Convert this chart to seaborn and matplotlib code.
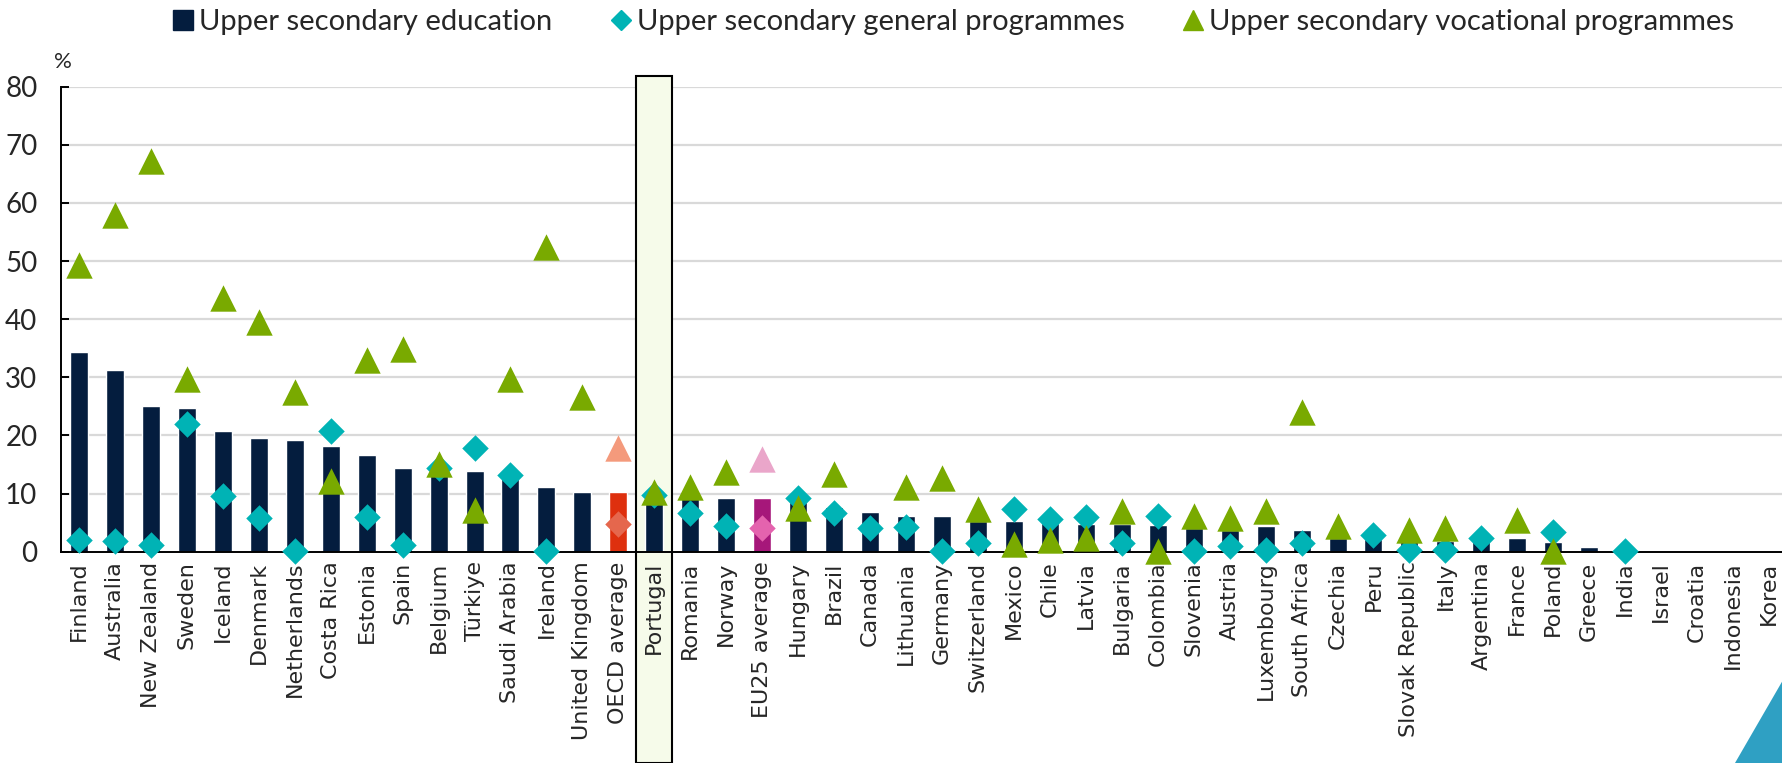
import matplotlib
matplotlib.use("Agg")
import matplotlib.pyplot as plt
import matplotlib.transforms as mtransforms
from matplotlib.patches import Rectangle, Polygon
from matplotlib.lines import Line2D
import numpy as np
import pandas as pd
import seaborn as sns

nan = np.nan

countries = ["Finland", "Australia", "New Zealand", "Sweden", "Iceland", "Denmark",
             "Netherlands", "Costa Rica", "Estonia", "Spain", "Belgium", "Türkiye",
             "Saudi Arabia", "Ireland", "United Kingdom", "OECD average", "Portugal",
             "Romania", "Norway", "EU25 average", "Hungary", "Brazil", "Canada",
             "Lithuania", "Germany", "Switzerland", "Mexico", "Chile", "Latvia",
             "Bulgaria", "Colombia", "Slovenia", "Austria", "Luxembourg", "South Africa",
             "Czechia", "Peru", "Slovak Republic", "Italy", "Argentina", "France",
             "Poland", "Greece", "India", "Israel", "Croatia", "Indonesia", "Korea"]

upper_secondary = [34.3, 31.3, 25.1, 24.8, 20.7, 19.5, 19.3, 18.2, 16.7, 14.4, 14.5, 13.8,
                   13.5, 11.2, 10.2, 10.2, 9.5, 9.4, 9.3, 9.2, 8.5, 7.7, 6.9,
                   6.2, 6.1, 5.3, 5.3, 5.0, 4.8, 4.7, 4.6, 4.0, 3.7, 4.5, 3.8,
                   2.4, 2.1, 1.8, 1.8, 1.8, 2.4, 1.7, 0.8, 0.0, 0.0, 0.0, 0.0, 0.0]

general = [2.0, 1.8, 1.2, 21.9, 9.5, 5.8, 0.2, 20.8, 5.9, 1.2, 14.4, 17.8,
           13.2, 0.2, nan, 4.8, 9.8, 6.7, 4.4, 4.0, 9.2, 6.7, 4.1,
           4.2, 0.2, 1.5, 7.3, 5.7, 6.0, 1.5, 6.1, 0.2, 1.0, 0.3, 1.5,
           nan, 2.9, 0.3, 0.3, 2.3, nan, 3.4, nan, 0.2, nan, nan, nan, nan]

vocational = [49.4, 57.9, 67.3, 29.7, 43.6, 39.5, 27.5, 12.2, 33.0, 34.9, 15.1, 7.1,
              29.7, 52.5, 26.7, 17.8, 10.2, 11.2, 13.7, 15.9, 7.5, 13.4, nan,
              11.1, 12.6, 7.3, 1.3, 2.0, 2.4, 7.0, 0.1, 6.1, 5.8, 7.0, 24.0,
              4.4, nan, 3.7, 4.0, nan, 5.5, 0.1, nan, nan, nan, nan, nan, nan]

legend_labels = ["Upper secondary education", "Upper secondary general programmes",
                 "Upper secondary vocational programmes"]

# colours
NAVY, TEAL, GREEN = "#041D3E", "#00B3B5", "#79AA00"
bar_pal = {c: NAVY for c in countries}
bar_pal.update({"OECD average": "#DE300E", "EU25 average": "#A6177A"})
gen_pal = {c: TEAL for c in countries}
gen_pal.update({"OECD average": "#E5674D", "EU25 average": "#E463AE"})
voc_pal = {c: GREEN for c in countries}
voc_pal.update({"OECD average": "#F49A7C", "EU25 average": "#EAA6CA"})

df = pd.DataFrame({"country": countries, "upper": upper_secondary,
                   "general": general, "vocational": vocational})

sns.set_theme(style="white")
plt.rcParams["font.family"] = ["Lato", "DejaVu Sans"]

W, H = 1783, 763
fig = plt.figure(figsize=(W / 100, H / 100), dpi=100)
ax = fig.add_axes([61 / W, 1 - 551.7 / H, 1726 / W, (551.7 - 86.7) / H])

sns.barplot(data=df, x="country", y="upper", hue="country", palette=bar_pal,
            order=countries, width=0.5, saturation=1, legend=False, dodge=False, ax=ax)
for bar in ax.patches:
    bar.set_zorder(2)
sns.stripplot(data=df, x="country", y="general", hue="country", palette=gen_pal,
              order=countries, jitter=False, marker="D", size=13.5, linewidth=0,
              legend=False, dodge=False, ax=ax, zorder=3, clip_on=False)
sns.stripplot(data=df, x="country", y="vocational", hue="country", palette=voc_pal,
              order=countries, jitter=False, marker="^", size=19, linewidth=0,
              legend=False, dodge=False, ax=ax, zorder=4, clip_on=False)

# highlight box for Portugal (behind bars, above gridlines)
p = countries.index("Portugal")
trans = mtransforms.blended_transform_factory(ax.transData, fig.transFigure)
ax.add_patch(Rectangle((p - 0.5, 0), 1, 1 - 76 / H, transform=trans, clip_on=False,
                       facecolor="#F6FBEA", edgecolor="black", lw=1.5, zorder=1))

ax.set_xlim(-0.5, len(countries) - 0.5)
ax.set_ylim(0, 80)
yticks = list(range(0, 81, 10))
ax.set_yticks(yticks)
ax.set_xlabel("")
ax.set_ylabel("")
ax.grid(False)
ax.set_axisbelow(False)
for yv in yticks[1:]:
    ax.axhline(yv, color="#D9D9D9", lw=1.6, zorder=0.5)
for s in ["top", "right"]:
    ax.spines[s].set_visible(False)
for s in ["left", "bottom"]:
    ax.spines[s].set_color("black")
    ax.spines[s].set_linewidth(1.4)
    ax.spines[s].set_zorder(2.5)

ax.set_xticks(range(len(countries)))
ax.set_xticklabels(countries, rotation=90, fontfamily="DejaVu Sans", fontsize=16)
ax.set_xticks(np.arange(len(countries) - 1) + 0.5, minor=True)
ax.tick_params(axis="x", which="major", length=0, pad=7)
ax.tick_params(axis="x", which="minor", direction="in", length=7, width=1.2, color="black")
ax.tick_params(axis="y", direction="in", length=6, width=1.4, color="black",
               labelsize=20, pad=17, left=True)

fig.text(63 / W, 1 - 62 / H, "%", ha="center", va="center", fontsize=16)

handles = [Line2D([], [], ls="", marker="s", ms=14, color=NAVY),
           Line2D([], [], ls="", marker="D", ms=10.5, color=TEAL),
           Line2D([], [], ls="", marker="^", ms=15, color=GREEN)]
fig.legend(handles, legend_labels, loc="center", bbox_to_anchor=(0.534, 1 - 22 / H),
           ncol=3, frameon=False, fontsize=21, handletextpad=0.1, columnspacing=1.9,
           handlelength=0.9)

# corner decoration
fig.patches.append(Polygon([(1 - 48 / W, 0), (1, 0), (1, 1 - 680 / H)], closed=True,
                           transform=fig.transFigure, facecolor="#2FA0C3", edgecolor="none"))

fig.savefig("out.png", dpi=100)
